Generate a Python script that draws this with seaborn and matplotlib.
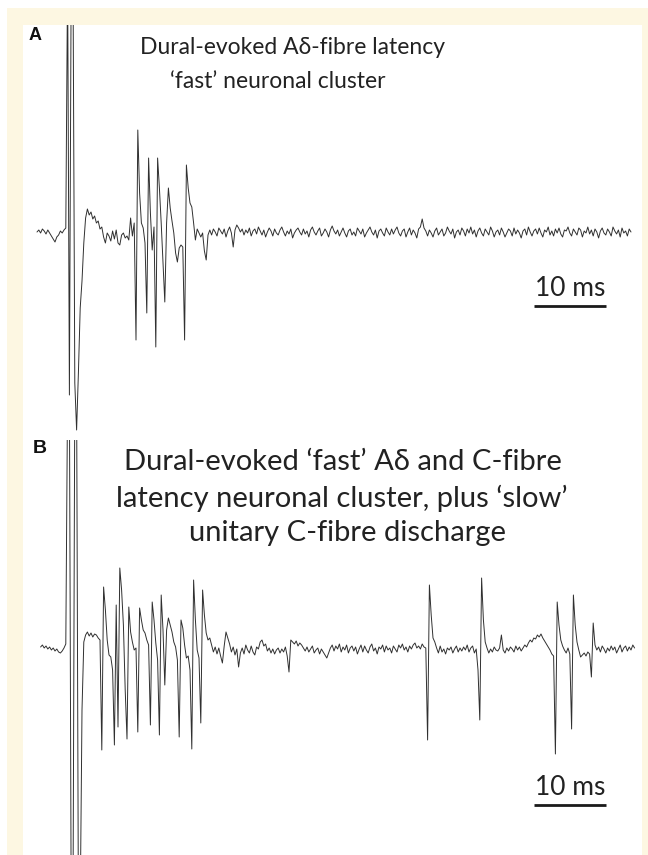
import numpy as np
import pandas as pd
import matplotlib
matplotlib.use("Agg")
import matplotlib.pyplot as plt
from matplotlib.patches import Rectangle
import seaborn as sns

# Sampled extracellular traces (amplitude in a.u., one value every 0.25 ms)
SAMPLE_MS = 0.25
START_A_MS = 0.0
START_B_MS = 0.5
SCALE_MS = 10

trace_a = [
    1, 3, 0, 4, 2, -1, 3, 0, -3, -6, -9, -4, -2, 2, 0, 3, 5,
    260, -162, 260, 260, -150, -197, -140, -75, -48, -10, 15, 24,
    18, 21, 14, 17, 10, 12, 4, 6, -4, -10, 0, -3, -8, 2, -6, 3, -10, -12, -2, 0, -5, -3, -7, 15, -3, 10,
    -107, 103, 40, 10, 5, -10, -80, 75, 20, -17, 6, -114, 75, 45, 10, -30, -69, 10, 45, 25,
    12, 0, -20, -29, -15, -12, -14, -107, 68, 45, 30, 26, 10, -7, 4, 0, -4, 0, -18, -27, -2,
    3, -2, 4, 1, -3, 5, 2, -1, 4, -4, 2, 6, 0, -14, 3, 8, 5, 1, 4, -2,
    3, 0, 5, -3, 2, 4, -1, 6, 2, -2, 3, -4, 1, 5, 2, -3, 4, 0, -2, 3,
    6, 1, -3, 2, -1, 4, -5, 0, 3, 5, 1, -2, 4, -1, 2, -4, 3, 6, 1, -2,
    2, 5, -3, 0, 4, 1, -4, 3, 7, 2, -1, 3, -3, 1, 5, 0, -4, 2, 4, -2,
    1, -3, 5, 2, -1, 4, -4, 0, 3, 6, 1, -2, 3, -5, 2, 4, 0, -3, 5, 1,
    -2, 4, -1, 3, 6, 0, -3, 2, 4, -4, 1, 5, -2, 3, 0, -5, 4, 6, 14, 5,
    2, -3, 3, 0, -4, 2, 5, -2, 1, 4, -3, 0, 6, 2, -1, 4, -5, 1, 3, -2,
    5, 2, -3, 4, 0, 6, -1, 3, -4, 2, 5, 0, -3, 4, 1, -2, 6, 2, -4, 1,
    3, -2, 5, 1, -4, 0, 4, 2, -3, 5, -1, 3, 0, -5, 2, 4, -2, 6, 1, -3,
    2, 4, -1, 5, 0, -4, 3, 1, 6, -2, 2, -3, 4, 0, 5, -1, -4, 3, 2, 6,
    0, -3, 4, 1, -2, 5, 3, -4, 2, 0, 6, -1, 3, -3, 4, 1, -5, 2, 5, 0,
    -2, 4, 1, -3, 6, 2, -1, 3, -4, 5, 0, 2, -3, 4, 1,
]

trace_b = [
    3, 5, 2, 4, 1, 3, 0, 2, -1, 1, -2, -3, -1, 2, 6,
    260, 260, -260, -260, 260, 260, -260, -260,
    -60, 8, 15, 18, 14, 17, 13, 16, 15, 12,
    10, -100, 63, 40, 10, -5, -7, -20, -95, 45, -77, 82, 60, 25, -40, -89, 43, 18, 8, 0,
    2, -82, 42, 30, 20, 17, 10, 5, -75, 48, 30, 7, -10, -85, 55, 20, -35, 20, 32, 25,
    18, 8, 3, -10, -87, 30, 22, 5, -8, -6, -20, -99, 70, 30, 0, -8, -73, 60, 35, 17, 10, 12,
    5, -2, 3, -4, 2, -6, -13, 4, 18, 12, 6, -2, 3, -5, 1, -17, -3, 2, -4, 5,
    0, -3, 4, -2, -5, 3, 1, 8, 10, 4, 6, -1, 2, -3, 1, -4, 0, 2, -3, 1,
    -2, 3, -6, -22, 10, 8, 6, 9, 4, 7, 5, 2, -1, 3, -2, 1, 4, -3, 0, 2,
    -4, 1, -2, -5, -8, -3, 2, 5, -1, 4, 1, 6, -2, 3, 0, 5, -3, 2, 4, -1,
    3, -4, 1, 5, -2, 4, 0, -3, 3, 6, -1, 2, -4, 3, 1, 5, -2, 4, 0, 2,
    -3, 4, 1, -2, 5, 2, 6, 0, 3, -2, 4, 1, 5, 7, 2, 4, 1, 6, 3, 2,
    -90, 65, 35, 12, 8, 2, -3, 4, -2, 1, -4, 2, 0, 3, -3, 1, 4, -2, 2, -1,
    3, 0, 5, -2, 2, 4, -3, 1, -20, -70, 72, 30, 8, 2, -3, 1, -2, 3, 0, -1,
    2, 15, 0, -3, 2, -1, 3, 1, -2, 4, 0, 3, -1, 2, 5, 3, 7, 10, 8, 12,
    11, 15, 13, 16, 12, 9, 6, 3, 0, -4, -6, -104, 48, 25, 10, 4, 0, -3, 2, -4,
    -79, 55, 25, 8, 0, -7, -5, -3, -6, -2, -4, -27, 27, 5, 0, 3, -2, 4, 1, -3,
    2, -1, 4, 0, 3, -3, 1, 5, -2, 2, 4, -1, 3, 0, 5, 2,
]

title_a = ["Dural-evoked A\u03b4-fibre latency", "\u2018fast\u2019 neuronal cluster"]
title_b = ["Dural-evoked \u2018fast\u2019 A\u03b4 and C-fibre",
           "latency neuronal cluster, plus \u2018slow\u2019",
           "unitary C-fibre discharge"]
scale_label = "10 ms"

W, H = 648, 855
CREAM = "#fdf7e2"
INK = "#303030"
TEXT_FONT = ["Lato", "DejaVu Sans"]
LABEL_FONT = ["Liberation Sans", "DejaVu Sans"]


def fx(x):
    return x / W


def fy(y):
    return 1 - y / H


def main():
    sns.set_theme(style="white")
    plt.rcParams["font.family"] = TEXT_FONT

    fig = plt.figure(figsize=(W / 100, H / 100), dpi=100, facecolor="white")
    fig.patches.append(Rectangle((fx(7), 0), 1 - fx(7), fy(8), transform=fig.transFigure,
                                 facecolor=CREAM, edgecolor="none", zorder=-3))
    fig.patches.append(Rectangle((fx(23), 0), fx(642) - fx(23), fy(25), transform=fig.transFigure,
                                 facecolor="white", edgecolor="none", zorder=-2))

    # time axis shared by both panels: panel spans x=23..642 px, trace origin at 37 px, 7.2 px/ms
    xlim = (-14 / 7.2, 605 / 7.2)

    ax_a = fig.add_axes([fx(23), fy(440), fx(642) - fx(23), fy(25) - fy(440)])
    ax_b = fig.add_axes([fx(23), fy(855), fx(642) - fx(23), fy(440) - fy(855)])

    panels = [
        (ax_a, trace_a, START_A_MS, (-207, 208), -73),
        (ax_b, trace_b, START_B_MS, (-205, 210), -155),
    ]
    for ax, trace, start, ylim, bar_y in panels:
        df = pd.DataFrame({
            "time_ms": start + np.arange(len(trace)) * SAMPLE_MS,
            "amp": trace,
        })
        sns.lineplot(data=df, x="time_ms", y="amp", ax=ax, color=INK, linewidth=0.7,
                     estimator=None, sort=False)
        # scale bar
        ax.plot([69, 69 + SCALE_MS], [bar_y, bar_y], color="#1a1a1a", linewidth=2.0,
                solid_capstyle="butt")
        ax.text(69 + SCALE_MS / 2, bar_y + 5, scale_label, ha="center", va="bottom",
                fontsize=19, color="#222222", family=TEXT_FONT)
        ax.set_xlim(*xlim)
        ax.set_ylim(*ylim)
        ax.set_axis_off()
        ax.patch.set_visible(False)

    # titles
    for txt, (x, y) in zip(title_a, [(292, 47), (278, 82)]):
        fig.text(fx(x), fy(y), txt, ha="center", va="center", fontsize=16.5,
                 color="#222222", family=TEXT_FONT)
    for txt, (x, y) in zip(title_b, [(343, 462), (342, 498), (347, 533)]):
        fig.text(fx(x), fy(y), txt, ha="center", va="center", fontsize=21,
                 color="#222222", family=TEXT_FONT)

    # panel letters
    fig.text(fx(35), fy(35), "A", ha="center", va="center", fontsize=13,
             fontweight="bold", color="#111111", family=LABEL_FONT)
    fig.text(fx(40), fy(448), "B", ha="center", va="center", fontsize=14,
             fontweight="bold", color="#111111", family=LABEL_FONT)

    fig.savefig("out.png", dpi=100, facecolor="white")
    plt.close(fig)


if __name__ == "__main__":
    main()
